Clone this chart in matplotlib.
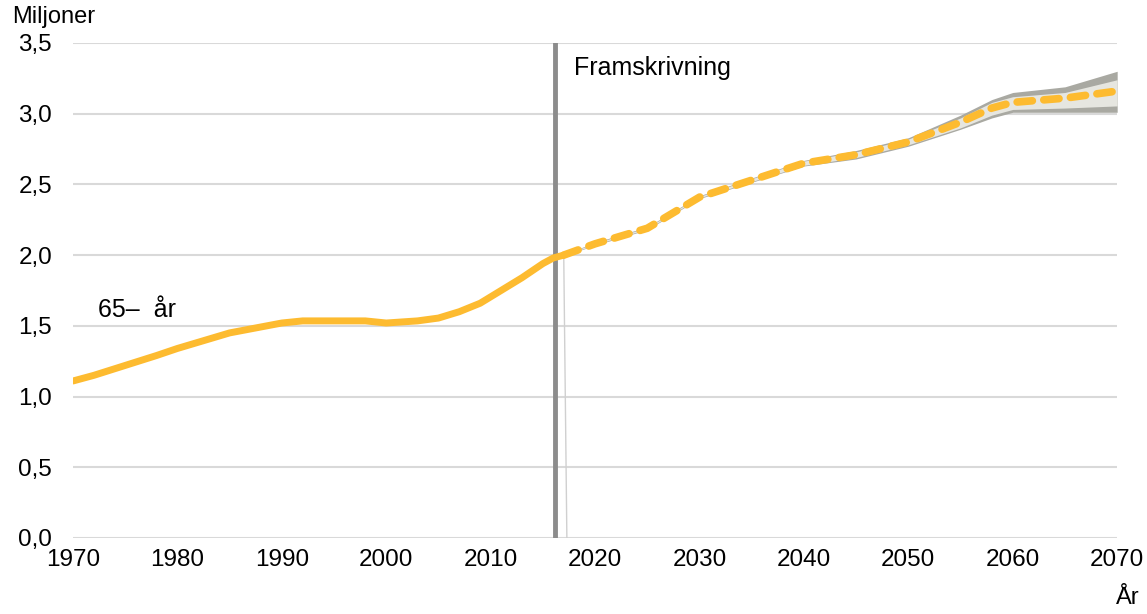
import numpy as np
import matplotlib.pyplot as plt

plt.rcParams['font.family'] = ['Liberation Sans', 'DejaVu Sans']

# historisk befolkning 65+ (miljoner)
hist_ar = [1970, 1972, 1975, 1978, 1980, 1985, 1990, 1992, 1995, 1998, 2000,
           2003, 2005, 2007, 2009, 2011, 2013, 2015, 2016, 2017]
hist_val = [1.11, 1.15, 1.22, 1.29, 1.34, 1.45, 1.52, 1.535, 1.535, 1.535, 1.52,
            1.535, 1.555, 1.60, 1.66, 1.75, 1.84, 1.94, 1.98, 2.00]

# framskrivning
fram_ar = [2017, 2020, 2025, 2030, 2035, 2040, 2045, 2050, 2055, 2058, 2060, 2065, 2070]
fram_val = [2.00, 2.08, 2.19, 2.41, 2.53, 2.65, 2.71, 2.80, 2.94, 3.04, 3.08, 3.11, 3.16]
yttre_hog = [2.005, 2.09, 2.20, 2.42, 2.545, 2.67, 2.74, 2.83, 2.99, 3.10, 3.15, 3.19, 3.30]
inre_hog = [2.003, 2.085, 2.195, 2.415, 2.54, 2.665, 2.73, 2.82, 2.97, 3.08, 3.12, 3.15, 3.24]
inre_lag = [1.997, 2.075, 2.185, 2.405, 2.52, 2.635, 2.69, 2.78, 2.90, 2.99, 3.03, 3.04, 3.055]
yttre_lag = [1.995, 2.07, 2.18, 2.40, 2.515, 2.63, 2.68, 2.77, 2.89, 2.97, 3.01, 3.01, 3.01]

yticks = [0, 0.5, 1.0, 1.5, 2.0, 2.5, 3.0, 3.5]
xticks = list(range(1970, 2071, 10))

fig = plt.figure(figsize=(11.47, 6.14), dpi=100)
ax = fig.add_axes([0.0636, 0.1238, 0.9104, 0.8062])

for y in yticks:
    ax.axhline(y, color='#d9d9d9', lw=1.5, zorder=0)

ax.fill_between(fram_ar, yttre_lag, yttre_hog, color='#a9a9a2', lw=0, zorder=1)
ax.fill_between(fram_ar, inre_lag, inre_hog, color='#e6e6e0', lw=0, zorder=2)

ax.axvline(2016.2, color='#8c8c8c', lw=3.5, zorder=3)
ax.plot([2017.3, 2017.0], [0, 2.0], color='#d0d0d0', lw=1, zorder=3)

ax.plot(hist_ar, hist_val, color='#fdbb30', lw=5, solid_capstyle='round', zorder=4)
ax.plot(fram_ar, fram_val, color='#fdbb30', lw=5.5, dashes=(2.0, 1.5),
        dash_capstyle='round', zorder=4)

ax.text(2018.0, 3.32, 'Framskrivning', fontsize=18, va='center', ha='left')
ax.text(1972.4, 1.61, '65–  år', fontsize=18, va='center', ha='left')

ax.set_xlim(1970, 2070)
ax.set_ylim(0, 3.5)
ax.set_xticks(xticks)
ax.set_yticks(yticks)
ax.set_yticklabels([f'{v:.1f}'.replace('.', ',') for v in yticks])
ax.tick_params(length=0, labelsize=17.5)
ax.tick_params(axis='y', pad=15)
ax.tick_params(axis='x', pad=8)
for s in ax.spines.values():
    s.set_visible(False)

fig.text(0.011, 0.973, 'Miljoner', fontsize=17, va='center', ha='left')
fig.text(0.983, 0.026, 'År', fontsize=17, va='center', ha='center')

fig.savefig('out.png', dpi=100)
